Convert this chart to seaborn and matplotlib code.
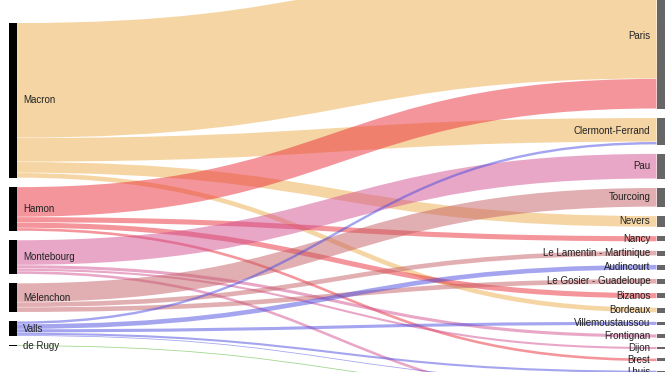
import matplotlib
matplotlib.use("Agg")
import matplotlib.pyplot as plt
from matplotlib.path import Path
from matplotlib.patches import PathPatch, Rectangle
import seaborn as sns

# ---------------- data ----------------
left_nodes = ["Macron", "Hamon", "Montebourg", "Mélenchon", "Valls", "de Rugy"]
right_nodes = ["Paris", "Clermont-Ferrand", "Pau", "Tourcoing", "Nevers", "Nancy",
               "Le Lamentin - Martinique", "Audincourt", "Le Gosier - Guadeloupe",
               "Bizanos", "Bordeaux", "Villemoustaussou", "Frontignan", "Dijon",
               "Brest", "Lhuis", "Autre 1", "Autre 2", "Autre 3"]

link_source = ["Macron", "Macron", "Macron", "Macron",
               "Hamon", "Hamon", "Hamon", "Hamon",
               "Montebourg", "Montebourg", "Montebourg", "Montebourg",
               "Mélenchon", "Mélenchon", "Mélenchon",
               "Valls", "Valls", "Valls", "Valls", "Valls",
               "de Rugy"]
link_target = ["Paris", "Clermont-Ferrand", "Nevers", "Bordeaux",
               "Paris", "Nancy", "Bizanos", "Brest",
               "Pau", "Frontignan", "Dijon", "Autre 3",
               "Tourcoing", "Le Lamentin - Martinique", "Le Gosier - Guadeloupe",
               "Clermont-Ferrand", "Audincourt", "Villemoustaussou", "Lhuis", "Autre 1",
               "Autre 2"]
link_value = [115, 24, 11, 5,
              30, 5.5, 5.5, 3,
              25, 3.5, 2.5, 3,
              19, 5, 5,
              2.8, 5, 3.5, 2.5, 1,
              1]

source_colors = ["#edad4b", "#e92d37", "#d35191", "#c55f65", "#4b4be1", "#41af19"]

# ---------------- style / layout ----------------
sns.set_theme(style="white")
plt.rcParams["font.family"] = ["Liberation Sans", "DejaVu Sans"]
palette = dict(zip(left_nodes, sns.color_palette(source_colors)))

W, H = 672, 372
gap = 9.1
node_w = 8
x_left = 9
x_right = 656.5
center = 184.5
px_to_pt = 72 / 100

def node_sizes(nodes, key):
    return {n: sum(v for k, v in zip(key, link_value) if k == n) for n in nodes}

left_size = node_sizes(left_nodes, link_source)
right_size = node_sizes(right_nodes, link_target)

def stack(nodes, sizes):
    span = sum(sizes[n] for n in nodes) + gap * (len(nodes) - 1)
    y = center - span / 2
    pos = {}
    for n in nodes:
        pos[n] = (y, y + sizes[n])
        y += sizes[n] + gap
    return pos

left_pos = stack(left_nodes, left_size)
right_pos = stack(right_nodes, right_size)

fig = plt.figure(figsize=(W / 100, H / 100), dpi=100)
ax = fig.add_axes([0, 0, 1, 1])
ax.set_xlim(0, W)
ax.set_ylim(H, 0)
ax.axis("off")

# link offsets
links = list(zip(link_source, link_target, link_value))
src_off = {n: left_pos[n][0] for n in left_nodes}
tgt_off = {n: right_pos[n][0] for n in right_nodes}
y0s, y1s = {}, {}
for i in sorted(range(len(links)), key=lambda i: (left_nodes.index(links[i][0]), right_nodes.index(links[i][1]))):
    s, t, v = links[i]
    y0s[i] = src_off[s] + v / 2
    src_off[s] += v
for i in sorted(range(len(links)), key=lambda i: (right_nodes.index(links[i][1]), left_nodes.index(links[i][0]))):
    s, t, v = links[i]
    y1s[i] = tgt_off[t] + v / 2
    tgt_off[t] += v

xa = x_left + node_w
xb = x_right
xm = (xa + xb) / 2
for i, (s, t, v) in enumerate(links):
    p = Path([(xa, y0s[i]), (xm, y0s[i]), (xm, y1s[i]), (xb, y1s[i])],
             [Path.MOVETO, Path.CURVE4, Path.CURVE4, Path.CURVE4])
    lw = max(v - 0.4, 0.8) * px_to_pt
    ax.add_patch(PathPatch(p, fill=False, edgecolor=palette[s], alpha=0.5,
                           linewidth=lw, capstyle="butt"))

for n in left_nodes:
    a, b = left_pos[n]
    ax.add_patch(Rectangle((x_left, a), node_w, max(b - a, 1), facecolor="black", edgecolor="none"))
    ax.text(x_left + node_w + 6, (a + b) / 2, n, ha="left", va="center",
            fontsize=7, color="#222222")
for n in right_nodes:
    a, b = right_pos[n]
    ax.add_patch(Rectangle((x_right, a), node_w, max(b - a, 1), facecolor="#666666", edgecolor="none"))
    if (a + b) / 2 < H + 4:
        ax.text(x_right - 6, (a + b) / 2, n, ha="right", va="center",
                fontsize=7, color="#222222")

fig.savefig("out.png", dpi=100)
